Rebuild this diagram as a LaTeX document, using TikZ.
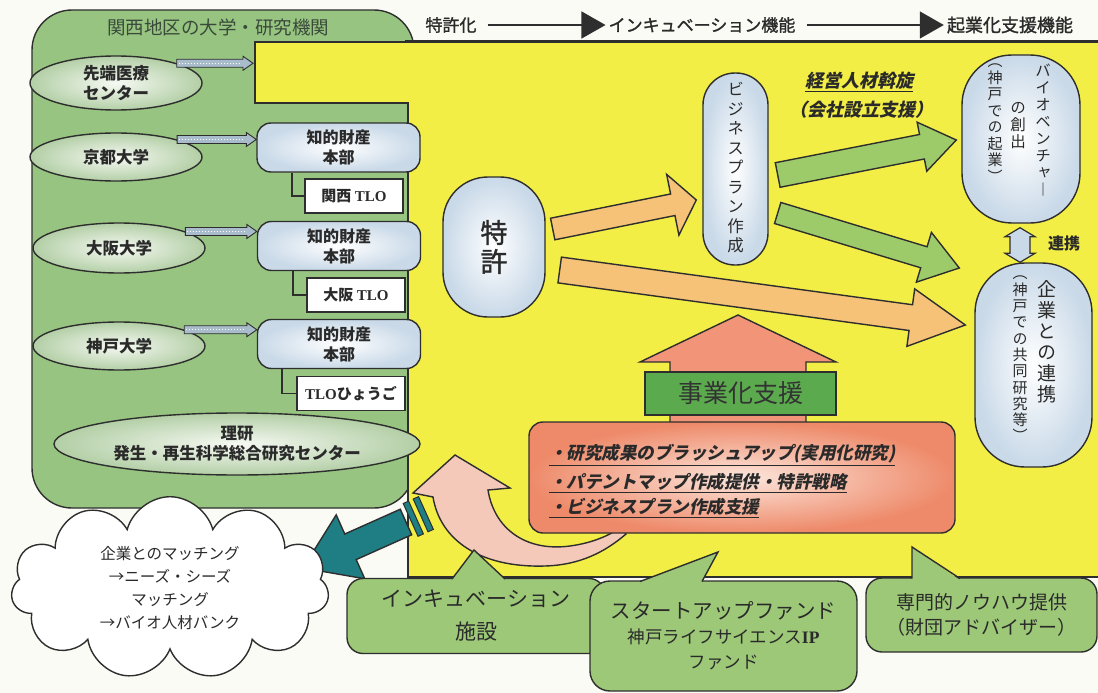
\documentclass[tikz,border=0pt]{standalone}
\usepackage{fontspec}
\setmainfont{Noto Sans CJK JP}
\newfontfamily\jp{Noto Sans CJK JP}
\newfontfamily\jpm[FakeBold=1.3]{Noto Sans CJK JP}
\newfontfamily\jpv[RawFeature=+vert]{Noto Sans CJK JP}
\newfontfamily\jpi[FakeSlant=0.22]{Noto Sans CJK JP}
\newfontfamily\serifb{Liberation Serif}
\usetikzlibrary{shapes.geometric,shapes.symbols,arrows.meta,calc}
\definecolor{bgc}{HTML}{FBFBF5}
\definecolor{lncol}{HTML}{2E2E2E}
\definecolor{txt}{HTML}{2A2A2A}
\definecolor{panel}{HTML}{98C482}
\definecolor{yel}{HTML}{F3EE45}
\definecolor{lblue}{HTML}{C9D9E8}
\definecolor{ellout}{HTML}{B3CFA6}
\definecolor{ellin}{HTML}{F6F9F3}
\definecolor{orng}{HTML}{F5C277}
\definecolor{garr}{HTML}{9DCB6A}
\definecolor{pinkup}{HTML}{F19478}
\definecolor{lblg}{HTML}{5BAA4E}
\definecolor{salmon}{HTML}{EE8A6A}
\definecolor{salmonin}{HTML}{FCE6DC}
\definecolor{curv}{HTML}{F5C9BA}
\definecolor{tealc}{HTML}{1E7E84}
\definecolor{cgreen}{HTML}{9CC877}
\definecolor{stripec}{HTML}{A9BCCB}
\definecolor{titlec}{HTML}{3A4A3A}

\newcommand\blkarrow[6]{%
  \coordinate (ba-a) at #2;
  \coordinate (ba-b) at #3;
  \coordinate (ba-h) at ($(ba-b)!#6!(ba-a)$);
  \filldraw[#1] ($(ba-a)!#4!90:(ba-b)$) -- ($(ba-h)!#4!-90:(ba-a)$) -- ($(ba-h)!#5!-90:(ba-a)$) -- (ba-b) -- ($(ba-h)!#5!90:(ba-a)$) -- ($(ba-h)!#4!90:(ba-a)$) -- ($(ba-a)!#4!-90:(ba-b)$) -- cycle;}

\tikzset{
  ln/.style={draw=lncol, line width=1.4pt},
  ell/.style={ellipse, ln, inner color=ellin, outer color=ellout, align=center,
    font=\jp\bfseries\fontsize{16.5}{20}\selectfont, text=txt, inner sep=0pt},
  kbox/.style={rectangle, rounded corners=14pt, ln, inner color=white, outer color=lblue,
    align=center, minimum width=163pt, minimum height=49pt,
    font=\jp\bfseries\fontsize{16}{20}\selectfont, text=txt, inner sep=0pt},
  tlobox/.style={rectangle, ln, line width=1.2pt, fill=white, minimum height=34pt,
    font=\bfseries\fontsize{15}{18}\selectfont, text=txt, inner sep=0pt},
  vbox/.style={rectangle, ln, inner color=white, outer color=lblue},
  vtxt/.style={align=center, inner sep=0pt, text=txt},
  hdr/.style={font=\jpm\fontsize{17}{20}\selectfont, text=txt, inner sep=3pt},
  harrow/.style={draw=lncol, line width=1.4pt, -{Triangle[length=24pt,width=27pt]}, shorten <=8pt},
  smallarr/.style={draw=lncol, line width=0.9pt, fill=stripec},
  orarr/.style={ln, fill=orng, line join=miter},
  grarr/.style={ln, fill=garr, line join=miter},
  callout/.style={rectangle, rounded corners=16pt, ln, fill=cgreen, align=center, text=txt, inner sep=0pt},
  ptxt/.style={anchor=west, inner sep=0pt, text=txt, font=\jpi\bfseries\fontsize{17.5}{20}\selectfont},
}

\begin{document}
\begin{tikzpicture}[x=1pt,y=-1pt]
\useasboundingbox (0,0) rectangle (1098,693);
\fill[bgc] (0,0) rectangle (1098,693);

% left green panel
\draw[ln, fill=panel, rounded corners=40pt] (32,10) rectangle (414,508);
\node[font=\jp\fontsize{18.5}{22}\selectfont, text=titlec] (title) at (218,27) {関西地区の大学・研究機関};

% yellow area
\fill[yel] (255,42) -- (1098,42) -- (1098,577) -- (408,577) -- (408,103) -- (255,103) -- cycle;
\draw[ln] (1098,42) -- (255,42) -- (255,103) -- (408,103) -- (408,577) -- (1098,577);
\draw[ln] (405,41) -- (1098,41);

% header
\node[hdr] (h1) at (451,25) {特許化};
\node[hdr] (h2) at (702,25) {インキュベーション機能};
\node[hdr, font=\jpm\fontsize{18}{20}\selectfont] (h3) at (1010,25) {起業化支援機能};
\draw[harrow] (h1.east) -- (h2.west);
\draw[harrow] (h2.east) -- (h3.west);

% ellipses
\node[ell, minimum width=172pt, minimum height=54pt] (sentan) at (116,83) {先端医療\\センター};
\node[ell, minimum width=172pt, minimum height=48pt] (kyoto) at (116,157) {京都大学};
\node[ell, minimum width=172pt, minimum height=50pt] (osaka) at (119,248) {大阪大学};
\node[ell, minimum width=172pt, minimum height=48pt] (kobe) at (119,346) {神戸大学};
\node[ell, minimum width=366pt, minimum height=62pt] (riken) at (237,444) {理研\\発生・再生科学総合研究センター};

% IP boxes
\node[kbox] (k1) at (338.5,147.5) {知的財産\\本部};
\node[kbox] (k2) at (339,246) {知的財産\\本部};
\node[kbox] (k3) at (339,344) {知的財産\\本部};
\node[tlobox, minimum width=98pt] (t1) at (354,196) {\jp 関西 \serifb TLO};
\node[tlobox, minimum width=98pt] (t2) at (356,295) {\jp 大阪 \serifb TLO};
\node[tlobox, minimum width=108pt] (t3) at (351,393.5) {\serifb TLO\jp ひょうご};
\draw[ln, line width=1.2pt] ([xshift=-46.5pt]k1.south) |- (t1.west);
\draw[ln, line width=1.2pt] ([xshift=-46pt]k2.south) |- (t2.west);
\draw[ln, line width=1.2pt] ([xshift=-57pt]k3.south) |- (t3.west);

% small striped arrows
\coordinate (yedge) at (253,0);
\blkarrow{smallarr}{(sentan.18)}{(sentan.18 -| yedge)}{4pt}{7pt}{10pt}
\draw[white, dotted, line width=1pt] ([xshift=2pt]sentan.18) -- ([xshift=-12pt]sentan.18 -| yedge);
\blkarrow{smallarr}{(kyoto.16)}{(kyoto.16 -| k1.west)}{4pt}{7pt}{10pt}
\draw[white, dotted, line width=1pt] ([xshift=2pt]kyoto.16) -- ([xshift=-12pt]kyoto.16 -| k1.west);
\blkarrow{smallarr}{(osaka.14)}{(osaka.14 -| k2.west)}{4pt}{7pt}{10pt}
\draw[white, dotted, line width=1pt] ([xshift=2pt]osaka.14) -- ([xshift=-12pt]osaka.14 -| k2.west);
\blkarrow{smallarr}{(kobe.14)}{(kobe.14 -| k3.west)}{4pt}{7pt}{10pt}
\draw[white, dotted, line width=1pt] ([xshift=2pt]kobe.14) -- ([xshift=-12pt]kobe.14 -| k3.west);

% central boxes
\node[vbox, rounded corners=45pt, minimum width=102pt, minimum height=140pt] (tokkyo) at (494,247) {};
\node[vtxt, font=\jpm\fontsize{27}{29}\selectfont] (tokkyot) at (tokkyo.center) {特\\許};
\node[vbox, rounded corners=32pt, minimum width=65pt, minimum height=192pt] (biz) at (735.5,169) {};
\node[vtxt, anchor=north, font=\jpv\fontsize{16.5}{19.5}\selectfont] (bizt) at (735.5,82) {ビ\\ジ\\ネ\\ス\\プ\\ラ\\ン\\作\\成};
\node[vbox, rounded corners=50pt, minimum width=118pt, minimum height=168pt] (bio) at (1021,139) {};
\node[vtxt, anchor=north, font=\jpv\fontsize{15.5}{17}\selectfont] (bio1) at (1043,64) {バ\\イ\\オ\\ベ\\ン\\チ\\ャ\\︱};
\node[vtxt, anchor=north, font=\jpv\fontsize{15.5}{17}\selectfont] (bio2) at (1018,102) {の\\創\\出};
\node[vtxt, anchor=north, font=\jpv\fontsize{15}{16.5}\selectfont] (bio3) at (995,64) {︵\\神\\戸\\で\\の\\起\\業\\︶};
\node[vbox, rounded corners=50pt, minimum width=117pt, minimum height=204pt] (kigyo) at (1033.5,365) {};
\node[vtxt, anchor=north, font=\jpv\fontsize{19}{21}\selectfont] (kig1) at (1047,280) {企\\業\\と\\の\\連\\携};
\node[vtxt, anchor=north, font=\jpv\fontsize{15}{16.3}\selectfont] (kig2) at (1020,276) {︵\\神\\戸\\で\\の\\共\\同\\研\\究\\等\\︶};

% renkei double arrow
\coordinate (lt) at ([xshift=-1pt,yshift=-4pt]bio.south);
\coordinate (lb) at (lt |- kigyo.north);
\filldraw[ln, line width=1.2pt, fill=lblue] (lt) -- ++(15,9) -- ++(-5,0) -- ($(lb)+(10,-9)$) -- ++(5,0) -- (lb) -- ++(-15,-9) -- ++(5,0) -- ($(lt)+(-10,9)$) -- ++(-5,0) -- cycle;
\node[font=\jp\bfseries\fontsize{16}{20}\selectfont, text=txt] (renkei) at (1064,243) {連携};

% manager text
\node[font=\jpi\bfseries\fontsize{18}{20}\selectfont, text=txt] (keiei) at (859,82) {\underline{経営人材斡旋}};
\node[font=\jpi\bfseries\fontsize{18}{20}\selectfont, text=txt] (kaisha) at (861,110) {（会社設立支援）};

% orange arrows
\blkarrow{orarr}{($(tokkyo.east)+(7,-18)$)}{($(biz.west)+(-6,31)$)}{11pt}{31pt}{24pt}
\blkarrow{orarr}{($(tokkyo.east)+(14,23)$)}{($(kigyo.west)+(-9,-40)$)}{13pt}{29pt}{55pt}
% green arrows
\blkarrow{grarr}{($(biz.east)+(9,6)$)}{($(bio.west)+(-5,1)$)}{12.5pt}{25pt}{35pt}
\blkarrow{grarr}{($(biz.east)+(9,44)$)}{($(kigyo.west)+(-15,-97)$)}{11pt}{26pt}{37pt}

% business support up arrow
\filldraw[ln, fill=pinkup, line join=miter] (670,424) -- (670,362) -- (640,362) -- (738,315) -- (836,362) -- (806,362) -- (806,424) -- cycle;
\node[rectangle, ln, fill=lblg, minimum width=191pt, minimum height=43pt, inner sep=0pt,
  font=\jp\fontsize{25}{28}\selectfont, text=black!80] (jig) at (740.5,393.5) {事業化支援};

% curved pink arrow
\filldraw[ln, fill=curv] (455,455) -- (510,488) -- (488,490) .. controls (494,528) and (525,552) .. (570,546) .. controls (592,543) and (608,536) .. (620,528) -- (626,534) .. controls (605,552) and (580,565) .. (545,566) .. controls (480,568) and (440,540) .. (433,497) -- (413,493) -- cycle;

% pink box
\node[rectangle, rounded corners=14pt, ln, inner color=salmonin, outer color=salmon,
  minimum width=426pt, minimum height=111pt] (pb) at (742,477.5) {};
\node[ptxt] (p1) at (549,455) {\underline{・研究成果のブラッシュアップ(実用化研究)}};
\node[ptxt] (p2) at (549,483) {\underline{・パテントマップ作成提供・特許戦略}};
\node[ptxt] (p3) at (549,508) {\underline{・ビジネスプラン作成支援}};

% teal arrow
\blkarrow{ln, fill=tealc, line join=miter}{(406,522)}{(303,568)}{14pt}{35pt}{52pt}
\filldraw[ln, line width=1pt, fill=tealc] (403.2,503.5) -- (408.6,501.1) -- (423.4,533.9) -- (418.0,536.3) -- cycle;
\filldraw[ln, line width=1pt, fill=tealc] (413.2,499.0) -- (418.6,496.6) -- (433.4,529.4) -- (428.0,531.8) -- cycle;

% cloud
\node[cloud, cloud puffs=11, aspect=2.2, ln, fill=white, minimum width=318pt, minimum height=140pt,
  align=center, font=\jp\fontsize{15.5}{23}\selectfont, text=txt] (cloud) at (170,588)
  {企業とのマッチング\\→ニーズ・シーズ\\マッチング\\→バイオ人材バンク};

% callouts
\node[callout, minimum width=258pt, minimum height=75pt, font=\jp\fontsize{21}{33}\selectfont] (inc) at (476,616) {インキュベーション\\施設};
\fill[cgreen] (452,580) -- (474,550) -- (506,580) -- cycle;
\draw[ln] (452,579) -- (474,550) -- (505,579);

\node[callout, minimum width=267pt, minimum height=110pt, rounded corners=20pt, font=\jp\fontsize{17.5}{25}\selectfont] (fund) at (723.5,636)
  {{\fontsize{20.5}{25}\selectfont スタートアップファンド}\\神戸ライフサイエンス\serifb\bfseries IP\\ファンド};
\fill[cgreen] (640,582) -- (718,552) -- (702,582) -- cycle;
\draw[ln] (640,581.5) -- (718,552) -- (702,581.5);

\node[callout, minimum width=231pt, minimum height=74pt, font=\jp\fontsize{19}{25}\selectfont] (senmon) at (981.5,615)
  {専門的ノウハウ提供\\（財団アドバイザー）};
\fill[cgreen] (912,580) -- (912,547) -- (960,580) -- cycle;
\draw[ln] (912,578.5) -- (912,547) -- (960,578.5);
\end{tikzpicture}
\end{document}
